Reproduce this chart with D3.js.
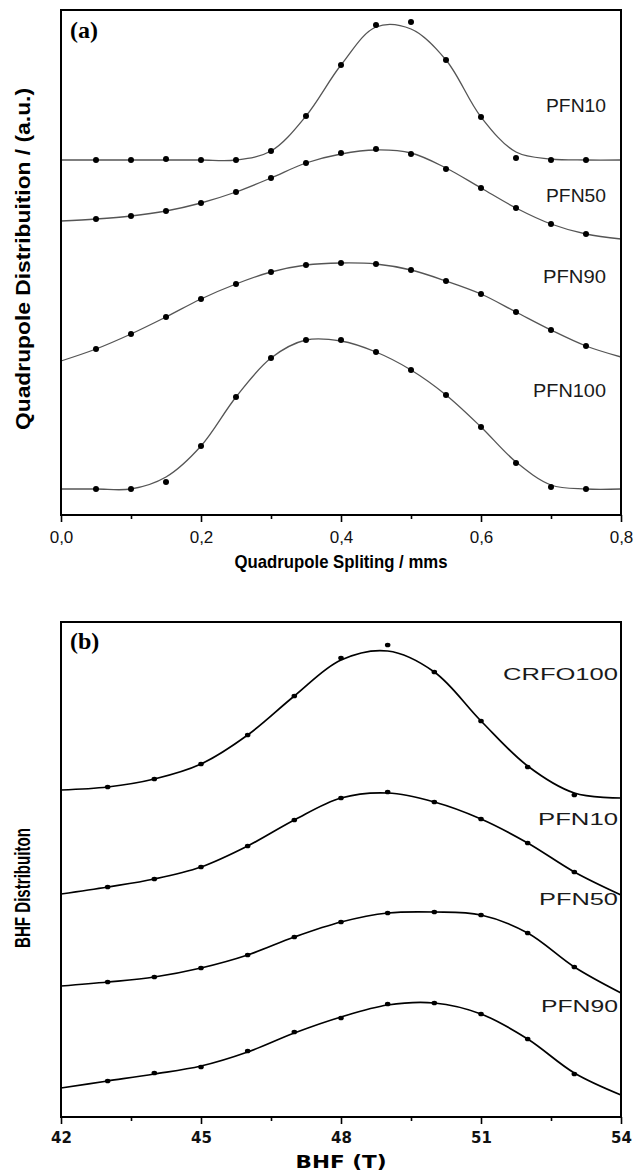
<!DOCTYPE html>
<html>
<head>
<meta charset="utf-8">
<script src="https://cdn.jsdelivr.net/npm/d3@7"></script>
<style>
    body { margin: 0; background: #fff; }
    svg { display: block; }
</style>
</head>
<body>
<script>
// ---- panel (a): quadrupole splitting distributions (a.u., stacked) ----
const qsDotX = [0.05, 0.10, 0.15, 0.20, 0.25, 0.30, 0.35, 0.40, 0.45, 0.50, 0.55, 0.60, 0.65, 0.70, 0.75];
const qsFitX = [0, 0.05, 0.10, 0.15, 0.20, 0.25, 0.30, 0.35, 0.40, 0.45, 0.50, 0.55, 0.60, 0.65, 0.70, 0.75, 0.80];
const qsTicks = [0, 0.2, 0.4, 0.6, 0.8];
const qsMinorTicks = [0.1, 0.3, 0.5, 0.7];

const pfn10Dots = [355, 355, 356, 355, 355, 364, 399, 450, 490, 493, 455, 398, 357, 355, 355];
const pfn10Fit = [355, 355, 355, 355, 355, 355, 364, 399, 450, 488, 486, 455, 398, 363, 356, 355, 355];
const pfn50Dots = [296, 299, 304, 312, 323, 337, 352, 362, 366, 361, 346, 327, 307, 291, 281];
const pfn50Fit = [294, 296, 299, 304, 312, 323, 337, 352, 361, 365, 362, 347, 327, 307, 291, 281, 276];
const pfn90Dots = [166, 181, 198, 216, 231, 243, 250, 252, 251, 245, 234, 221, 203, 185, 169];
const pfn90Fit = [154, 166, 181, 198, 216, 231, 243, 250, 252, 251, 245, 234, 221, 203, 185, 169, 158];
const pfn100Dots = [26, 26, 33, 69, 118, 157, 175, 175, 163, 145, 120, 88, 52, 28, 26];
const pfn100Fit = [26, 26, 26, 38, 69, 118, 157, 175, 174, 163, 145, 120, 88, 53, 30, 26, 26];
const qsNames = ["PFN10", "PFN50", "PFN90", "PFN100"];
const qsLabelLevel = [403, 313, 232, 118];

// ---- panel (b): hyperfine field distributions (a.u., stacked) ----
const bhfDotX = [43, 44, 45, 46, 47, 48, 49, 50, 51, 52, 53];
const bhfFitX = [42, 43, 44, 45, 46, 47, 48, 49, 50, 51, 52, 53, 54];
const bhfTicks = [42, 45, 48, 51, 54];
const bhfMinorTicks = [43.5, 46.5, 49.5, 52.5];

const crfo100Dots = [330, 338, 353, 382, 421, 459, 472, 445, 396, 350, 322];
const crfo100Fit = [327, 330, 338, 353, 382, 421, 457, 466, 445, 396, 351, 324, 319];
const bPfn10Dots = [230, 238, 250, 271, 297, 319, 325, 315, 298, 274, 245];
const bPfn10Fit = [223, 230, 238, 250, 271, 297, 319, 324, 315, 298, 274, 245, 222];
const bPfn50Dots = [135, 140, 149, 162, 180, 195, 204, 205, 202, 184, 150];
const bPfn50Fit = [131, 135, 140, 149, 162, 180, 195, 204, 205, 202, 184, 150, 124];
const bPfn90Dots = [36, 44, 50, 66, 85, 99, 113, 114, 103, 78, 43];
const bPfn90Fit = [29, 36, 43, 51, 65, 84, 100, 112, 114, 103, 78, 44, 22];
const bhfNames = ["CRFO100", "PFN10", "PFN50", "PFN90"];
const bhfLabelLevel = [437, 292, 212, 105];

const W = 634, H = 1171;

const svg = d3.select("body").append("svg")
    .attr("width", W)
    .attr("height", H);

function drawPanel(p) {
    const x = d3.scaleLinear().domain(p.xDomain).range([p.left, p.right]);
    const y = d3.scaleLinear().domain(p.yDomain).range([p.bottom, p.top]);
    const g = svg.append("g");

    // curves first, dots on top
    const line = d3.line()
        .x((d, i) => x(p.fitX[i]))
        .y(d => y(d))
        .curve(d3.curveCatmullRom.alpha(0.5));

    p.series.forEach(function (s) {
        g.append("path")
            .attr("d", line(s.fit))
            .attr("fill", "none")
            .attr("stroke", p.lineColor)
            .attr("stroke-width", p.lineWidth);

        g.selectAll(null)
            .data(s.dots)
            .enter().append("ellipse")
            .attr("cx", (d, i) => x(p.dotX[i]))
            .attr("cy", d => y(d))
            .attr("rx", p.dotRx)
            .attr("ry", p.dotRy)
            .attr("fill", "#000");
    });

    // series names
    p.series.forEach(function (s, i) {
        const t = g.append("text")
            .attr("x", p.labelX)
            .attr("y", y(p.labelLevel[i]))
            .attr("text-anchor", "end")
            .attr("fill", "#1a1a1a")
            .style("font-family", p.labelFont)
            .style("font-size", p.labelSize + "px")
            .text(s.name);
        if (p.labelWidths) {
            t.attr("textLength", p.labelWidths[i]).attr("lengthAdjust", "spacingAndGlyphs");
        }
    });

    // minor ticks
    g.append("g")
        .attr("transform", "translate(0," + p.bottom + ")")
        .call(d3.axisBottom(x).tickValues(p.minorTicks).tickSize(4).tickFormat(""))
        .call(a => a.select(".domain").remove())
        .call(a => a.selectAll("line").attr("stroke", "#000").attr("stroke-width", 1.6));

    // major ticks + labels
    const ax = g.append("g")
        .attr("transform", "translate(0," + p.bottom + ")")
        .call(d3.axisBottom(x).tickValues(p.ticks).tickSize(7).tickPadding(p.tickPadding).tickFormat(p.tickFormat))
        .call(a => a.select(".domain").remove());
    ax.selectAll("line").attr("stroke", "#000").attr("stroke-width", 1.6);
    ax.selectAll("text")
        .attr("fill", "#111")
        .style("font-family", p.tickFont)
        .style("font-size", p.tickSize + "px")
        .style("font-weight", p.tickWeight);

    // frame
    g.append("rect")
        .attr("x", p.left)
        .attr("y", p.top)
        .attr("width", p.right - p.left)
        .attr("height", p.bottom - p.top)
        .attr("fill", "none")
        .attr("stroke", "#000")
        .attr("stroke-width", 2);

    // panel letter
    g.append("text")
        .attr("x", p.left + 9)
        .attr("y", p.top + p.letterDy)
        .style("font-family", '"Liberation Serif", "Times New Roman", serif')
        .style("font-weight", "bold")
        .style("font-size", "24px")
        .text(p.letter);

    // x title
    g.append("text")
        .attr("x", (p.left + p.right) / 2)
        .attr("y", p.xTitleY)
        .attr("text-anchor", "middle")
        .style("font-family", p.xTitleFont)
        .style("font-weight", "bold")
        .style("font-size", p.xTitleSize + "px")
        .attr("textLength", p.xTitleWidth)
        .attr("lengthAdjust", "spacingAndGlyphs")
        .text(p.xTitle);

    // y title
    g.append("text")
        .attr("transform", "translate(" + p.yTitleX + "," + p.yTitleY + ") rotate(-90)")
        .attr("text-anchor", "middle")
        .attr("dy", "0.35em")
        .style("font-family", '"Liberation Sans", Arial, sans-serif')
        .style("font-weight", "bold")
        .style("font-size", p.yTitleSize + "px")
        .attr("textLength", p.yTitleWidth)
        .attr("lengthAdjust", "spacingAndGlyphs")
        .text(p.yTitle);
}

drawPanel({
    letter: "(a)", letterDy: 28,
    left: 61, right: 621, top: 10, bottom: 515,
    xDomain: [0, 0.8], yDomain: [0, 505],
    dotX: qsDotX, fitX: qsFitX,
    series: [
        {name: qsNames[0], dots: pfn10Dots, fit: pfn10Fit},
        {name: qsNames[1], dots: pfn50Dots, fit: pfn50Fit},
        {name: qsNames[2], dots: pfn90Dots, fit: pfn90Fit},
        {name: qsNames[3], dots: pfn100Dots, fit: pfn100Fit}
    ],
    labelLevel: qsLabelLevel, labelX: 606, labelWidths: [60, 60, 63, 73],
    labelFont: '"Liberation Sans", Arial, sans-serif', labelSize: 19,
    lineColor: "#555", lineWidth: 1.3, dotRx: 3, dotRy: 3,
    ticks: qsTicks, minorTicks: qsMinorTicks,
    tickFormat: d => d3.format(".1f")(d).replace(".", ","),
    tickFont: '"Liberation Sans", Arial, sans-serif', tickSize: 17, tickWeight: "normal", tickPadding: 9,
    xTitle: "Quadrupole Spliting / mms", xTitleY: 568, xTitleSize: 19, xTitleWidth: 213,
    xTitleFont: '"Liberation Sans", Arial, sans-serif',
    yTitle: "Quadrupole Distribuition / (a.u.)", yTitleX: 23, yTitleY: 259, yTitleSize: 21, yTitleWidth: 342
});

drawPanel({
    letter: "(b)", letterDy: 27,
    left: 61, right: 621, top: 622, bottom: 1117,
    xDomain: [42, 54], yDomain: [0, 495],
    dotX: bhfDotX, fitX: bhfFitX,
    series: [
        {name: bhfNames[0], dots: crfo100Dots, fit: crfo100Fit},
        {name: bhfNames[1], dots: bPfn10Dots, fit: bPfn10Fit},
        {name: bhfNames[2], dots: bPfn50Dots, fit: bPfn50Fit},
        {name: bhfNames[3], dots: bPfn90Dots, fit: bPfn90Fit}
    ],
    labelLevel: bhfLabelLevel, labelX: 618, labelWidths: [115, 80, 79, 77],
    labelFont: '"Liberation Sans", Arial, sans-serif', labelSize: 17,
    lineColor: "#000", lineWidth: 1.7, dotRx: 2.8, dotRy: 2.3,
    ticks: bhfTicks, minorTicks: bhfMinorTicks,
    tickFormat: d3.format("d"),
    tickFont: '"DejaVu Sans", sans-serif', tickSize: 15, tickWeight: "bold", tickPadding: 8,
    xTitle: "BHF (T)", xTitleY: 1168, xTitleSize: 17, xTitleWidth: 91,
    xTitleFont: '"DejaVu Sans", sans-serif',
    yTitle: "BHF Distribuiton", yTitleX: 22, yTitleY: 888, yTitleSize: 22, yTitleWidth: 120
});
</script>
</body>
</html>
